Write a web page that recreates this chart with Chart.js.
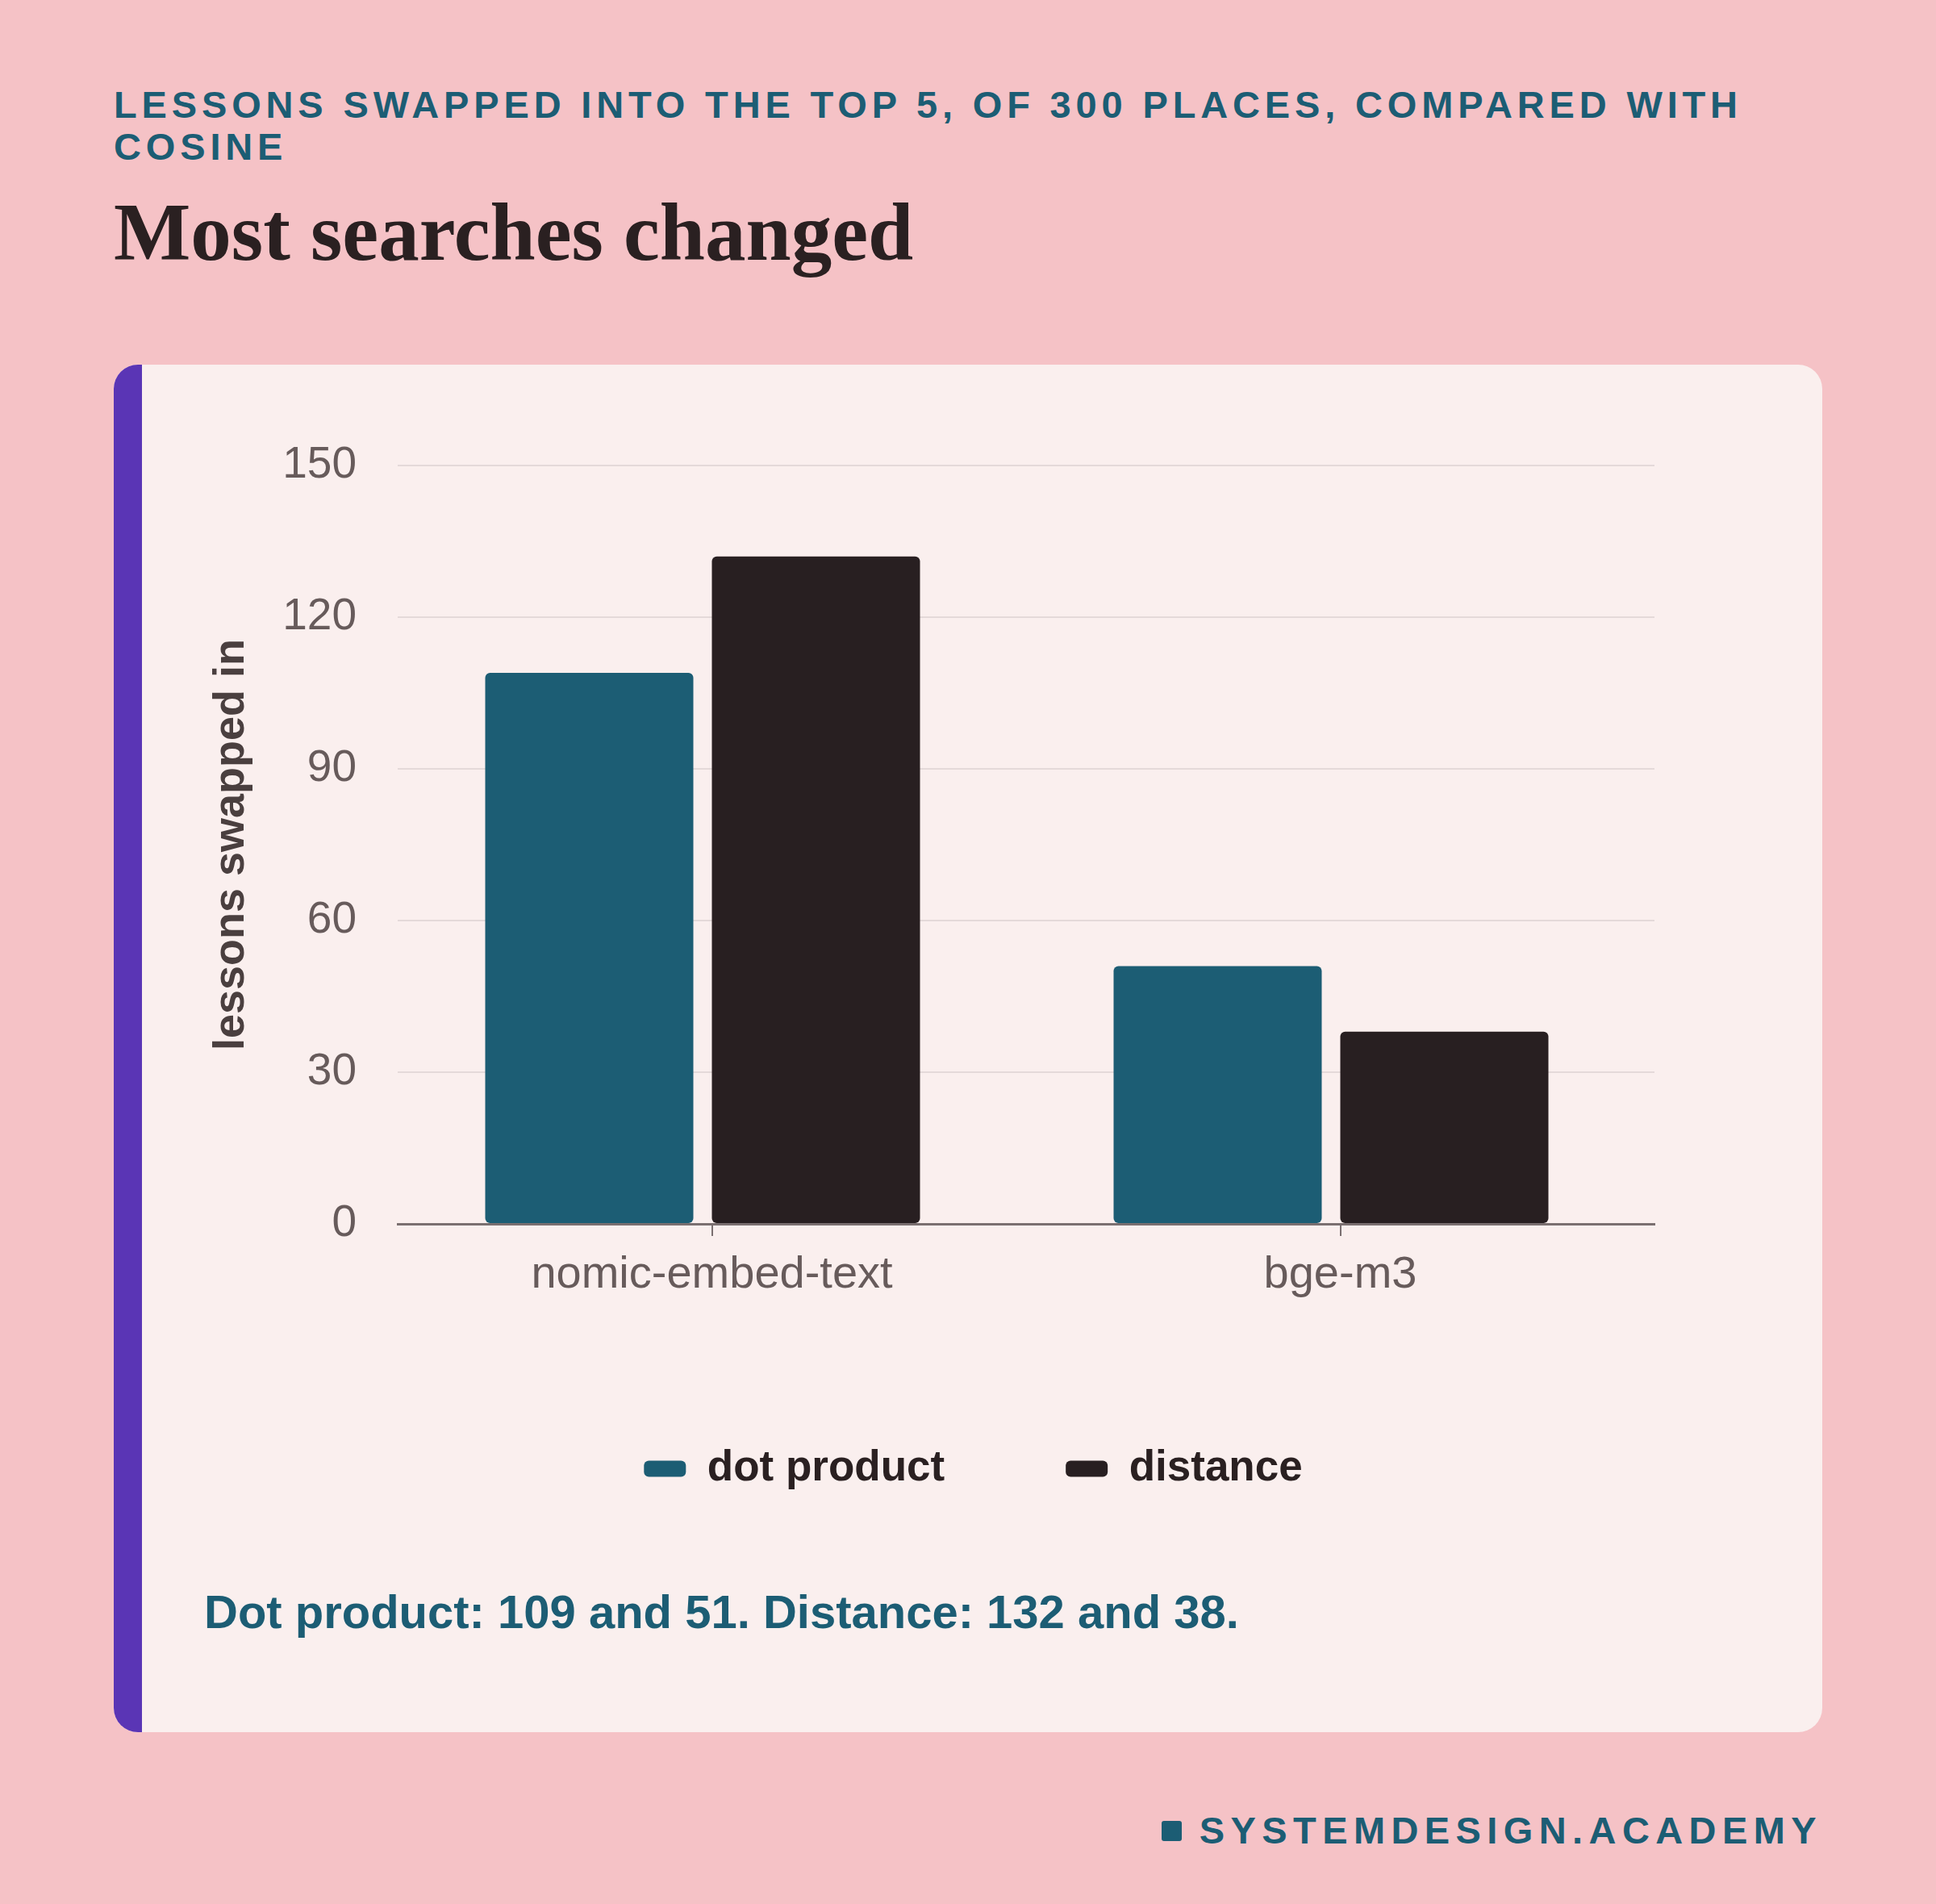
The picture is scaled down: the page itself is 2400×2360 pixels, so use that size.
<!DOCTYPE html>
<html>
<head>
<meta charset="utf-8">
<script src="https://cdn.jsdelivr.net/npm/chart.js@4.4.1/dist/chart.umd.min.js"></script>
<style>
  html, body { margin: 0; padding: 0; }
  body {
    width: 2400px; height: 2360px; position: relative; overflow: hidden;
    background: #F5C2C6; font-family: "Liberation Sans", Arial, sans-serif;
  }
  .kicker {
    position: absolute; left: 141px; top: 104px; width: 2118px;
    font-size: 47px; line-height: 52px; font-weight: bold; letter-spacing: 5.85px;
    color: #1C5D74;
  }
  .title {
    position: absolute; left: 141px; top: 238px;
    font-family: "Liberation Serif", "DejaVu Serif", serif;
    font-size: 101px; line-height: 101px; font-weight: bold; color: #2A2021;
  }
  .card {
    position: absolute; left: 141px; top: 452px; width: 2118px; height: 1695px;
    background: #FAEFEE; border-radius: 30px; overflow: hidden;
  }
  .card .bar {
    position: absolute; left: 0; top: 0; width: 35px; height: 100%; background: #5A35B5;
  }
  .chart-wrap {
    position: absolute; left: 35px; top: 0; width: 2083px; height: 1405px;
  }
  .note {
    position: absolute; left: 112px; top: 1512px;
    font-size: 58px; line-height: 67px; font-weight: bold; color: #1C5D74;
  }
  .footer {
    position: absolute; right: 141px; top: 2241px; height: 56px;
    display: flex; align-items: center;
    font-size: 47px; line-height: 56px; font-weight: bold; letter-spacing: 7.4px; color: #1C5D74;
  }
  .footer .sq {
    width: 25px; height: 25px; border-radius: 3px; background: #1C5D74; margin-right: 22px;
  }
</style>
</head>
<body>
<div class="kicker">LESSONS SWAPPED INTO THE TOP 5, OF 300 PLACES, COMPARED WITH COSINE</div>
<div class="title">Most searches changed</div>
<div class="card">
  <div class="bar"></div>
  <div class="chart-wrap"><canvas id="barChart"></canvas></div>
  <div class="note">Dot product: 109 and 51. Distance: 132 and 38.</div>
</div>
<div class="footer"><span class="sq"></span>SYSTEMDESIGN.ACADEMY</div>

<script>
// data
const models = ['nomic-embed-text', 'bge-m3'];
const dotProduct = [109, 51];
const distance = [132, 38];
const yTicks = [0, 30, 60, 90, 120, 150];
const seriesNames = ['dot product', 'distance'];

const TEAL = '#1C5D74';
const DARK = '#281F21';

Chart.defaults.font.family = "'Liberation Sans', Arial, sans-serif";

document.addEventListener('DOMContentLoaded', function() {
  const ctx = document.getElementById('barChart');

  new Chart(ctx, {
    type: 'bar',
    data: {
      labels: models,
      datasets: [{
        label: seriesNames[0],
        data: dotProduct,
        backgroundColor: TEAL,
        borderRadius: 6,
        borderSkipped: false,
        categoryPercentage: 0.7805,
        barPercentage: 0.8487
      }, {
        label: seriesNames[1],
        data: distance,
        backgroundColor: DARK,
        borderRadius: 6,
        borderSkipped: false,
        categoryPercentage: 0.6624,
        barPercentage: 1
      }]
    },
    options: {
      responsive: true,
      maintainAspectRatio: false,
      animation: false,
      layout: { padding: { top: 125, right: 22, bottom: 0, left: 0 } },
      scales: {
        x: {
          grid: {
            display: true,
            drawOnChartArea: false,
            drawTicks: true,
            tickLength: 15,
            offset: false,
            color: '#7A6F70',
            lineWidth: 2
          },
          border: { display: true, color: '#7A6F70', width: 3 },
          ticks: {
            color: '#675B5B',
            font: { size: 56 },
            padding: 15
          },
          afterFit: function(scale) { scale.height = 127; }
        },
        y: {
          min: 0,
          max: 150,
          afterBuildTicks: function(scale) {
            scale.ticks = yTicks.map(v => ({ value: v }));
          },
          grid: {
            drawTicks: false,
            color: c => (c.tick && c.tick.value === 0) ? 'rgba(0,0,0,0)' : '#E4D9D9',
            lineWidth: 2
          },
          border: { display: false },
          ticks: {
            color: '#675B5B',
            font: { size: 55 },
            padding: 51
          },
          title: {
            display: true,
            text: 'lessons swapped in',
            color: '#4A3F3F',
            font: { size: 54, weight: 'bold' },
            padding: { top: 79, bottom: 0 }
          },
          afterFit: function(scale) { scale.width = 317; }
        },
        // empty right-hand spacer so the legend stays centred in the card
        spacer: {
          type: 'linear',
          position: 'right',
          display: true,
          grid: { display: false },
          border: { display: false },
          ticks: { display: false },
          afterFit: function(scale) { scale.width = 186; }
        }
      },
      plugins: {
        legend: {
          position: 'bottom',
          align: 'center',
          labels: {
            color: '#2A2021',
            font: { size: 53, weight: 'bold' },
            boxWidth: 52,
            boxHeight: 20,
            useBorderRadius: true,
            borderRadius: 6,
            padding: 150
          }
        },
        tooltip: { enabled: false }
      }
    }
  });
});
</script>
</body>
</html>
